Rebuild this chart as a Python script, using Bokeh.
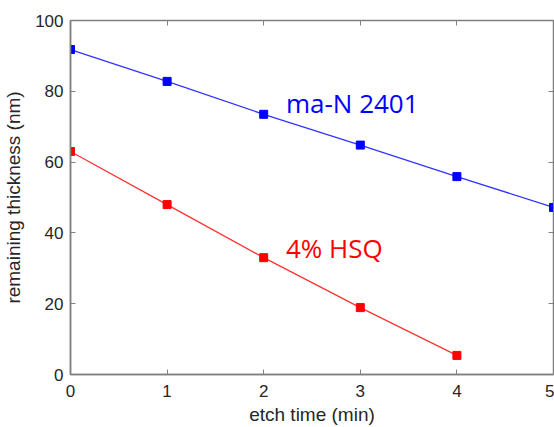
from bokeh.plotting import figure
from bokeh.models import LinearAxis, Range1d, FixedTicker, Label
from bokeh.embed import file_html
from bokeh.resources import INLINE

etch_time = [0, 1, 2, 3, 4, 5]
man_2401 = [91.8, 82.8, 73.5, 64.8, 55.9, 47.2]
hsq_time = [0, 1, 2, 3, 4]
hsq_4pct = [63.0, 48.0, 33.0, 18.9, 5.4]
x_ticks = [0, 1, 2, 3, 4, 5]
y_ticks = [0, 20, 40, 60, 80, 100]

p = figure(width=554, height=427, output_backend="svg", toolbar_location=None,
           x_range=Range1d(0, 5), y_range=Range1d(0, 100),
           min_border_left=70, min_border_top=20, min_border_right=1, min_border_bottom=53,
           x_axis_label="etch time (min)", y_axis_label="remaining thickness (nm)")
p.xgrid.visible = False
p.ygrid.visible = False
p.outline_line_color = "#808080"
p.outline_line_width = 1.5

for ax in (p.xaxis[0], p.yaxis[0]):
    ax.axis_line_color = "#808080"
    ax.axis_line_width = 1.5
    ax.major_tick_line_color = "#808080"
    ax.major_tick_in = 5
    ax.major_tick_out = 0
    ax.minor_tick_line_color = None
    ax.major_label_text_font = "Liberation Sans"
    ax.major_label_text_font_size = "17px"
    ax.major_label_text_color = "#262626"
    ax.axis_label_text_font = "Liberation Sans"
    ax.axis_label_text_font_size = "19px"
    ax.axis_label_text_font_style = "normal"
    ax.axis_label_text_color = "#262626"
p.xaxis[0].ticker = FixedTicker(ticks=x_ticks)
p.yaxis[0].ticker = FixedTicker(ticks=y_ticks)
p.xaxis[0].major_label_standoff = 10
p.yaxis[0].major_label_standoff = 7
p.xaxis[0].axis_label_standoff = 4
p.yaxis[0].axis_label_standoff = 8

top = LinearAxis(ticker=FixedTicker(ticks=x_ticks), major_label_text_color=None,
                 axis_line_color="#808080", major_tick_line_color="#808080",
                 major_tick_in=5, major_tick_out=0, minor_tick_line_color=None)
right = LinearAxis(ticker=FixedTicker(ticks=y_ticks), major_label_text_color=None,
                   axis_line_color="#808080", major_tick_line_color="#808080",
                   major_tick_in=5, major_tick_out=0, minor_tick_line_color=None)
p.add_layout(top, "above")
p.add_layout(right, "right")

p.line(etch_time, man_2401, line_color="#3333ff", line_width=1.3)
p.scatter(etch_time, man_2401, marker="square", size=8, color="blue")
p.line(hsq_time, hsq_4pct, line_color="#ff3333", line_width=1.3)
p.scatter(hsq_time, hsq_4pct, marker="square", size=8, color="red")

p.add_layout(Label(x=2.23, y=76.6, text="ma-N 2401", text_color="blue",
                   text_font="Open Sans", text_font_size="26px", text_baseline="alphabetic"))
p.add_layout(Label(x=2.23, y=35.6, text="4% HSQ", text_color="red",
                   text_font="Open Sans", text_font_size="26px", text_baseline="alphabetic"))

open("out.html", "w").write(file_html(p, INLINE))
